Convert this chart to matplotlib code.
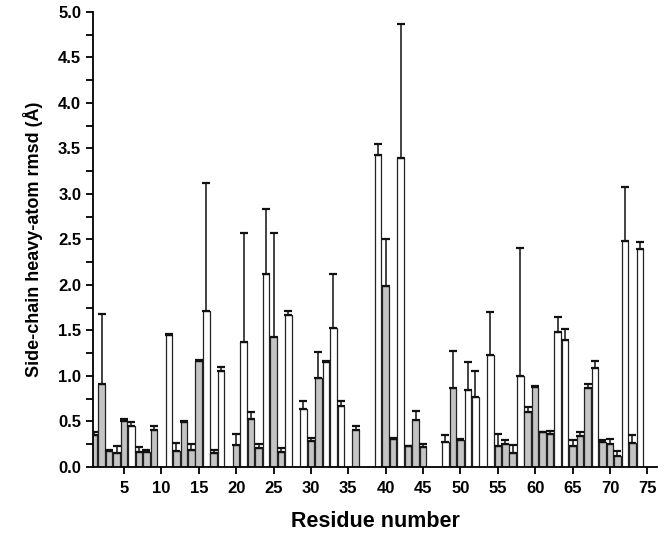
import numpy as np
import matplotlib
matplotlib.use('Agg')
import matplotlib.pyplot as plt
from matplotlib.ticker import MultipleLocator

plt.rcParams['font.family'] = ['Liberation Sans', 'DejaVu Sans']
plt.rcParams['font.weight'] = 'bold'

# residue numbers that have a bar
residues = [1, 2, 3, 4, 5, 6, 7, 8, 9, 11, 12, 13, 14, 15, 16, 17, 18, 20, 21, 22,
            23, 24, 25, 26, 27, 29, 30, 31, 32, 33, 34, 36, 39, 40, 41, 42, 43, 44, 45, 48,
            49, 50, 51, 52, 54, 55, 56, 57, 58, 59, 60, 61, 62, 63, 64, 65, 66, 67, 68, 69,
            70, 71, 72, 73, 74]
# side-chain heavy-atom rmsd (A)
rmsd = [0.35, 0.91, 0.175, 0.15, 0.50, 0.45, 0.17, 0.16, 0.41, 1.45, 0.175, 0.49, 0.19, 1.17, 1.71, 0.15, 1.05, 0.24, 1.37, 0.53,
        0.205, 2.12, 1.43, 0.17, 1.67, 0.64, 0.29, 0.98, 1.15, 1.53, 0.67, 0.41, 3.43, 1.99, 0.31, 3.40, 0.23, 0.52, 0.22, 0.28,
        0.87, 0.30, 0.85, 0.77, 1.23, 0.235, 0.255, 0.155, 1.00, 0.60, 0.88, 0.38, 0.36, 1.48, 1.40, 0.235, 0.34, 0.87, 1.09, 0.28,
        0.25, 0.125, 2.48, 0.26, 2.40]
# upper error bar length
err = [0.03, 0.77, 0.015, 0.08, 0.03, 0.04, 0.05, 0.03, 0.04, 0.01, 0.085, 0.01, 0.06, 0.005, 1.41, 0.04, 0.05, 0.12, 1.20, 0.07,
       0.045, 0.72, 1.14, 0.04, 0.04, 0.08, 0.03, 0.28, 0.02, 0.59, 0.06, 0.04, 0.12, 0.51, 0.005, 1.47, 0.005, 0.09, 0.03, 0.07,
       0.40, 0.01, 0.30, 0.285, 0.47, 0.125, 0.045, 0.085, 1.41, 0.06, 0.005, 0.005, 0.035, 0.165, 0.12, 0.065, 0.045, 0.045, 0.07, 0.02,
       0.06, 0.05, 0.60, 0.09, 0.07]
# 'w' = open bar, 'g' = grey bar
kind = ['g', 'g', 'g', 'g', 'g', 'w', 'g', 'g', 'g', 'w', 'g', 'g', 'g', 'g', 'w', 'g', 'w', 'g', 'w', 'g',
        'g', 'w', 'g', 'g', 'w', 'w', 'g', 'g', 'w', 'w', 'w', 'g', 'w', 'g', 'g', 'w', 'g', 'g', 'g', 'w',
        'g', 'g', 'w', 'w', 'w', 'g', 'g', 'g', 'w', 'g', 'g', 'g', 'g', 'w', 'w', 'g', 'g', 'g', 'w', 'g',
        'g', 'g', 'w', 'g', 'w']

colors = {'w': 'white', 'g': '#c4c4c4'}

fig = plt.figure(figsize=(6.66, 5.42), dpi=100)
ax = fig.add_axes([0.1396, 0.1384, 0.847, 0.8395])

ax.bar(residues, rmsd, width=0.88, color=[colors[k] for k in kind],
       edgecolor='#222222', linewidth=0.9, zorder=2)
ax.errorbar(residues, rmsd, yerr=[np.zeros(len(err)), err], fmt='none',
            ecolor='#111111', elinewidth=1.1, capsize=3, capthick=1.6, zorder=3)

ax.set_xlim(0.85, 76.3)
ax.set_ylim(0, 5.0)
ax.set_xticks(np.arange(5, 80, 5))
ax.yaxis.set_major_locator(MultipleLocator(0.5))
ax.yaxis.set_minor_locator(MultipleLocator(0.25))
ax.yaxis.set_major_formatter(matplotlib.ticker.FormatStrFormatter('%.1f'))

for s in ['top', 'right']:
    ax.spines[s].set_visible(False)
for s in ['left', 'bottom']:
    ax.spines[s].set_linewidth(1.3)
ax.tick_params(axis='both', which='both', direction='out', width=1.3, labelsize=12)
ax.tick_params(axis='both', which='major', length=5)
ax.tick_params(axis='y', which='minor', length=5)
ax.tick_params(axis='x', pad=5)

ax.set_ylabel('Side-chain heavy-atom rmsd (Å)', fontsize=13, fontweight='bold', labelpad=11)
ax.set_xlabel('Residue number', fontsize=15.5, fontweight='bold', labelpad=11)

fig.savefig('out.png', dpi=100)
